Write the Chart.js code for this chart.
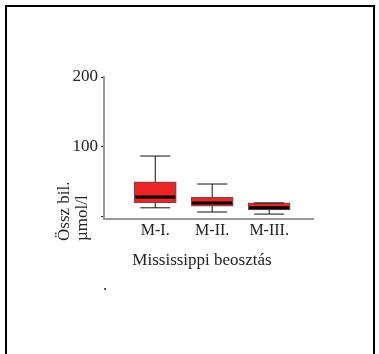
<!DOCTYPE html>
<html>
<head>
<meta charset="utf-8">
<script src="https://cdn.jsdelivr.net/npm/chart.js@4.4.0/dist/chart.umd.min.js"></script>
<style>
    body { margin: 0; background: #fff; }
    #wrap { position: relative; width: 379px; height: 354px; overflow: hidden; }
    #frame { position: absolute; left: 5px; top: 5px; width: 366px; height: 360px; border: 2px solid #000; pointer-events: none; }
</style>
</head>
<body>
<div id="wrap">
    <canvas id="myChart" width="379" height="354"></canvas>
    <div id="frame"></div>
</div>
<script>
// Box plot values
const categories = ['M-I.', 'M-II.', 'M-III.'];
const whiskerMin = [13, 7, 4];
const q1Values = [20, 15.5, 10];
const medianValues = [28.5, 20, 13];
const q3Values = [50, 28.5, 20];
const whiskerMax = [87, 47, 20];
const yTicks = [0, 100, 200];

const yTitle = ['Össz bil.', 'µmol/l'];
const xTitle = 'Mississippi beosztás';

const serif = "'Liberation Serif', 'Times New Roman', serif";

// Draws whiskers, medians and the axis titles
const boxExtras = {
    id: 'boxExtras',
    afterDatasetsDraw(chart) {
        const ctx = chart.ctx;
        const xs = chart.scales.x;
        const ys = chart.scales.y;
        ctx.save();
        categories.forEach((c, i) => {
            const px = xs.getPixelForValue(i + 1);
            const capHalf = 15;
            ctx.strokeStyle = '#111';
            ctx.lineWidth = 1;
            ctx.beginPath();
            ctx.moveTo(px, ys.getPixelForValue(q3Values[i]));
            ctx.lineTo(px, ys.getPixelForValue(whiskerMax[i]));
            ctx.moveTo(px - capHalf, ys.getPixelForValue(whiskerMax[i]));
            ctx.lineTo(px + capHalf, ys.getPixelForValue(whiskerMax[i]));
            ctx.moveTo(px, ys.getPixelForValue(q1Values[i]));
            ctx.lineTo(px, ys.getPixelForValue(whiskerMin[i]));
            ctx.moveTo(px - capHalf, ys.getPixelForValue(whiskerMin[i]));
            ctx.lineTo(px + capHalf, ys.getPixelForValue(whiskerMin[i]));
            ctx.stroke();
            // median
            ctx.strokeStyle = '#000';
            ctx.lineWidth = 3;
            ctx.beginPath();
            ctx.moveTo(px - 20, ys.getPixelForValue(medianValues[i]));
            ctx.lineTo(px + 20, ys.getPixelForValue(medianValues[i]));
            ctx.stroke();
        });

        ctx.fillStyle = '#222';
        ctx.font = '17px ' + serif;
        ctx.textAlign = 'center';
        ctx.textBaseline = 'middle';
        ctx.fillText(xTitle, 202, 261);
        ctx.fillText('.', 105, 286);

        ctx.textAlign = 'left';
        yTitle.forEach((t, k) => {
            ctx.save();
            ctx.translate(65 + k * 18, 241);
            ctx.rotate(-Math.PI / 2);
            ctx.fillText(t, 0, 0);
            ctx.restore();
        });
        ctx.restore();
    }
};

const ctx = document.getElementById('myChart').getContext('2d');
const myChart = new Chart(ctx, {
    type: 'bar',
    data: {
        datasets: [{
            data: categories.map((c, i) => ({ x: i + 1, y: [q1Values[i], q3Values[i]] })),
            backgroundColor: '#EE2424',
            borderColor: '#555',
            borderWidth: 1,
            borderSkipped: false,
            barThickness: 42
        }]
    },
    options: {
        responsive: false,
        animation: false,
        layout: { padding: { top: 77, right: 66, left: 0, bottom: 0 } },
        plugins: {
            legend: { display: false },
            tooltip: { enabled: false }
        },
        scales: {
            x: {
                type: 'linear',
                offset: false,
                min: 0.1,
                max: 3.77,
                afterFit: (scale) => { scale.height = 135; },
                afterBuildTicks: (scale) => { scale.ticks = categories.map((c, i) => ({ value: i + 1 })); },
                grid: { display: false, offset: false },
                border: { display: true, color: '#999', width: 2 },
                ticks: {
                    padding: -6,
                    color: '#222',
                    font: { family: serif, size: 16 },
                    callback: (v) => categories[v - 1] || ''
                }
            },
            y: {
                min: -3,
                max: 200,
                afterFit: (scale) => { scale.width = 104; },
                afterBuildTicks: (scale) => { scale.ticks = yTicks.map(v => ({ value: v })); },
                grid: { drawOnChartArea: false, tickLength: 3, color: '#333' },
                border: { display: true, color: '#999', width: 2 },
                ticks: {
                    padding: 3,
                    color: '#222',
                    font: { family: serif, size: 17 },
                    callback: (v) => v === 0 ? '' : v
                }
            }
        }
    },
    plugins: [boxExtras]
});
</script>
</body>
</html>
